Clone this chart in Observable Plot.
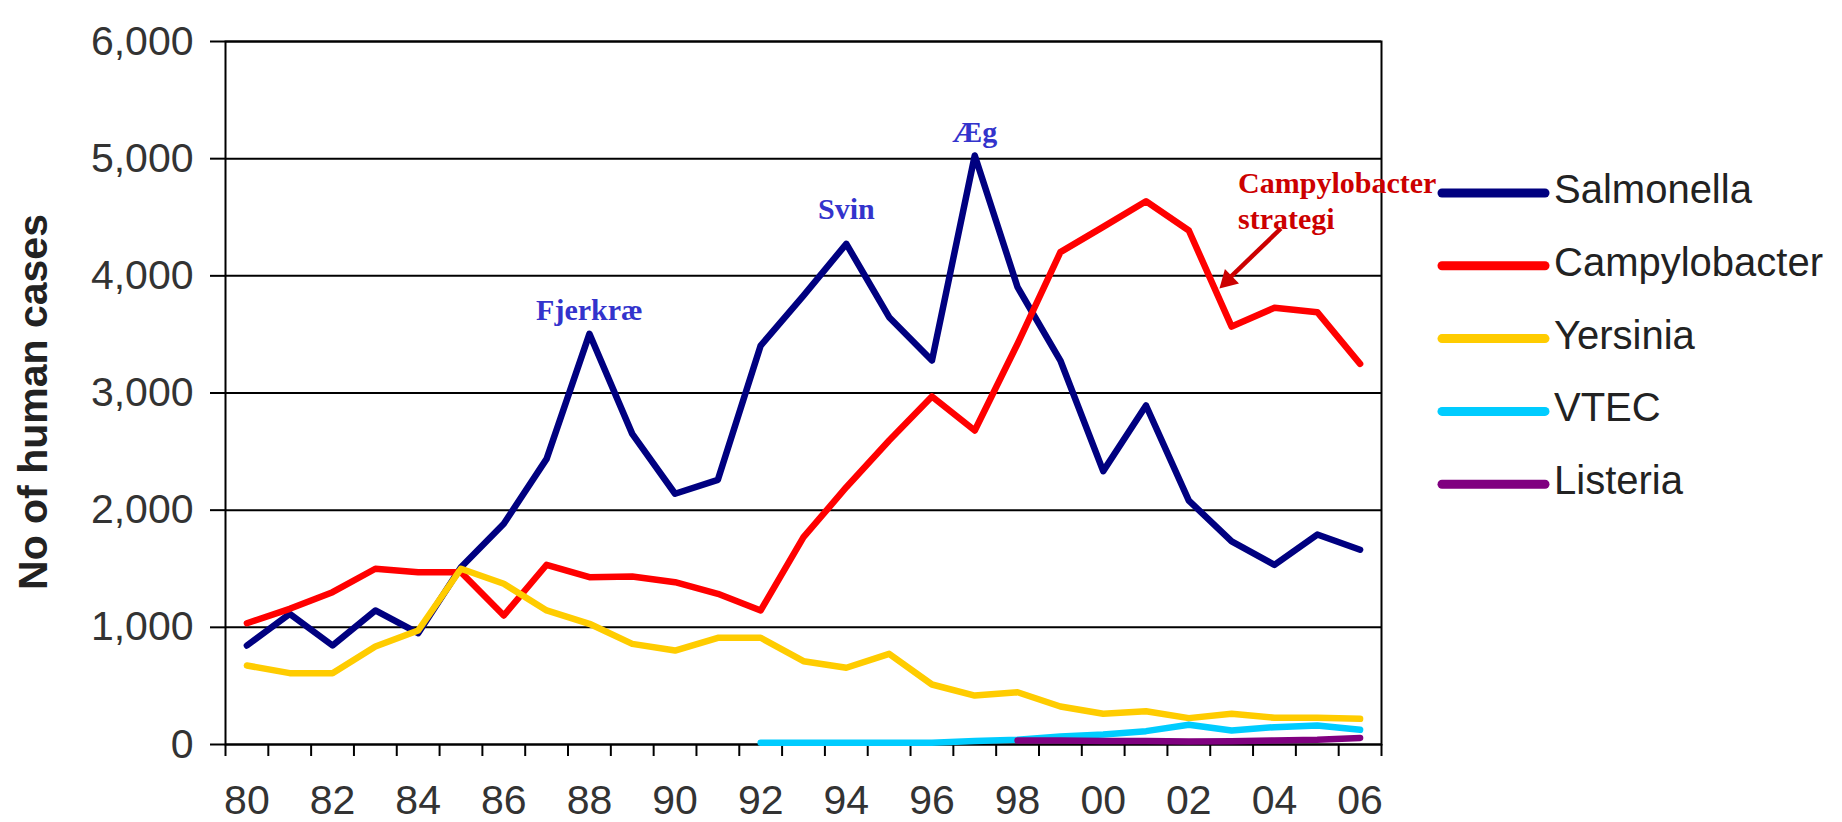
<!DOCTYPE html>
<html>
<head>
<meta charset="utf-8">
<script src="https://cdn.jsdelivr.net/npm/d3@7"></script>
<script src="https://cdn.jsdelivr.net/npm/@observablehq/plot@0.6"></script>
<style>
  html, body { margin: 0; padding: 0; background: #fff; }
  #wrap { position: relative; width: 1842px; height: 822px; overflow: hidden; }
  #wrap > svg { position: absolute; left: 0; top: 0; }
</style>
</head>
<body>
<div id="wrap"></div>
<script>
// ---- Data ----
const years = [1980,1981,1982,1983,1984,1985,1986,1987,1988,1989,1990,1991,1992,1993,1994,1995,1996,1997,1998,1999,2000,2001,2002,2003,2004,2005,2006];
const xTickLabels = ["80","82","84","86","88","90","92","94","96","98","00","02","04","06"];
const yTicks = [0, 1000, 2000, 3000, 4000, 5000, 6000];

const seriesNames = ["Salmonella", "Campylobacter", "Yersinia", "VTEC", "Listeria"];
const seriesColors = ["#000080", "#ff0000", "#ffcc00", "#00ccff", "#800080"];

const salmonella    = [845,1115,845,1144,950,1513,1884,2438,3505,2651,2140,2259,3405,3832,4273,3647,3277,5027,3903,3277,2333,2893,2082,1733,1533,1792,1662];
const campylobacter = [1035,1158,1300,1500,1470,1470,1101,1534,1428,1434,1385,1286,1144,1769,2196,2594,2970,2680,3420,4202,4418,4637,4387,3567,3727,3690,3249];
const yersinia      = [674,609,609,836,973,1500,1372,1144,1030,859,802,911,911,711,655,774,512,418,446,324,262,284,225,262,228,228,219];
const vtec          = [null,null,null,null,null,null,null,null,null,null,null,null,15,15,15,15,15,30,40,68,85,114,168,119,148,162,125];
const listeria      = [null,null,null,null,null,null,null,null,null,null,null,null,null,null,null,null,null,null,35,35,30,30,25,28,35,40,56];

const annotations = [
  {year: 1988, value: 3701, label: "Fjerkræ"},
  {year: 1994, value: 4563, label: "Svin"},
  {year: 1997, value: 5223, label: "Æg"}
];
const strategyNote = [{year: 2003.15, value: 4927, label: "Campylobacter\nstrategi"}];
const strategyArrow = [{x1: 2004.15, y1: 4404, x2: 2002.93, y2: 3975}];
const strategyArrowHead = [{year: 2002.91, value: 3961, angle: 225.7}];

// ---- Build table ----
const allSeries = [salmonella, campylobacter, yersinia, vtec, listeria];
const rows = [];
allSeries.forEach((vals, s) => {
  vals.forEach((v, i) => {
    if (v != null) rows.push({series: seriesNames[s], year: years[i], value: v});
  });
});
const boundaries = years.map(y => y - 0.5).concat([years[years.length - 1] + 0.5]);
const labelYears = xTickLabels.map(l => { const n = +l; return n >= 50 ? 1900 + n : 2000 + n; });

const sans = "'Liberation Sans', Arial, Helvetica, sans-serif";
const serif = "'Liberation Serif', 'Times New Roman', serif";

const chart = Plot.plot({
  width: 1842,
  height: 822,
  marginLeft: 225,
  marginRight: 461,
  marginTop: 41,
  marginBottom: 78,
  style: {fontFamily: sans, background: "transparent", overflow: "visible"},
  x: {domain: [years[0] - 0.5, years[years.length - 1] + 0.5], axis: null},
  y: {domain: [0, 6000], axis: null},
  marks: [
    Plot.ruleY(yTicks, {stroke: "#000", strokeWidth: 2}),
    Plot.frame({stroke: "#000", strokeWidth: 2}),
    Plot.axisY(yTicks, {
      tickSize: 15, tickPadding: 17, strokeWidth: 2, stroke: "#000",
      fill: "#333", fontSize: 41, tickFormat: d3.format(","), label: null
    }),
    Plot.axisX(boundaries, {tickSize: 12, strokeWidth: 2, stroke: "#000", tickFormat: () => "", label: null}),
    Plot.axisX(labelYears, {
      tickSize: 0, tickPadding: 40, fill: "#333", fontSize: 41,
      tickFormat: (d, i) => xTickLabels[i], label: null
    }),
    Plot.text(["No of human cases"], {
      frameAnchor: "left", textAnchor: "middle", dx: -192, dy: 9, rotate: -90,
      fontSize: 41, fontWeight: "bold", fill: "#222", fontFamily: sans
    }),
    ...seriesNames.map((name, s) => Plot.line(rows.filter(r => r.series === name), {
      x: "year", y: "value", stroke: seriesColors[s],
      strokeWidth: 6.5, strokeLinejoin: "round", strokeLinecap: "round"
    })),
    Plot.text(annotations, {
      x: "year", y: "value", text: "label",
      fontFamily: serif, fontWeight: "bold", fontSize: 30, fill: "#3333cc"
    }),
    Plot.text(strategyNote, {
      x: "year", y: "value", text: "label", textAnchor: "start", lineAnchor: "top",
      lineHeight: 1.2, fontFamily: serif, fontWeight: "bold", fontSize: 30, fill: "#cc0000"
    }),
    Plot.link(strategyArrow, {
      x1: "x1", y1: "y1", x2: "x2", y2: "y2",
      stroke: "#cc0000", strokeWidth: 4.5
    }),
    Plot.dot(strategyArrowHead, {
      x: "year", y: "value", symbol: "triangle", r: 7.5, rotate: "angle",
      fill: "#cc0000", stroke: "none"
    })
  ]
});

const wrap = document.getElementById("wrap");
wrap.appendChild(chart);

// ---- Legend (right side) ----
const legend = d3.create("svg")
  .attr("width", 1842).attr("height", 822)
  .style("pointer-events", "none");
const rowsG = legend.selectAll("g").data(seriesNames).join("g")
  .attr("transform", (d, i) => `translate(0, ${193 + i * 72.8})`);
rowsG.append("line")
  .attr("x1", 1442).attr("x2", 1545).attr("y1", 0).attr("y2", 0)
  .attr("stroke", (d, i) => seriesColors[i])
  .attr("stroke-width", 9).attr("stroke-linecap", "round");
rowsG.append("text")
  .attr("x", 1554).attr("y", 10)
  .attr("font-family", sans).attr("font-size", 40).attr("fill", "#222")
  .text(d => d);
wrap.appendChild(legend.node());
</script>
</body>
</html>
